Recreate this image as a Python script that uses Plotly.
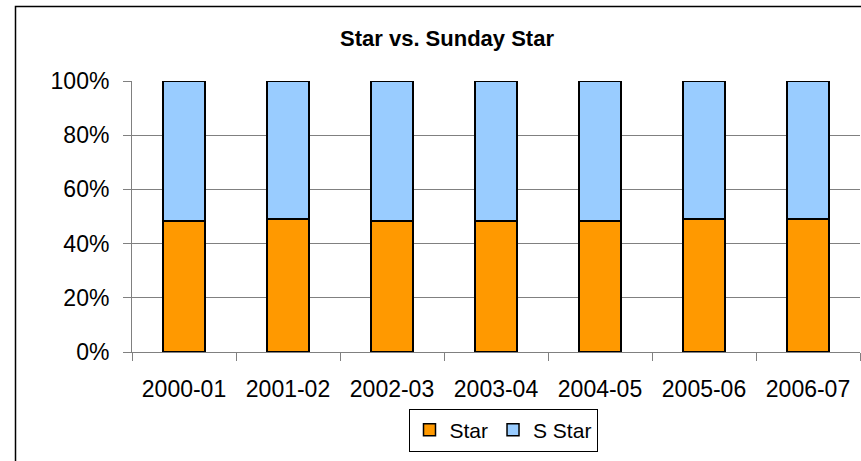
import plotly.graph_objects as go

categories = ["2000-01", "2001-02", "2002-03", "2003-04", "2004-05", "2005-06", "2006-07"]
star = [48.4, 49.0, 48.4, 48.4, 48.4, 49.0, 49.0]
s_star = [51.6, 51.0, 51.6, 51.6, 51.6, 51.0, 51.0]
y_ticks = [0, 20, 40, 60, 80, 100]
y_tick_labels = ["0%", "20%", "40%", "60%", "80%", "100%"]

FONT = "Liberation Sans, Arial, sans-serif"

fig = go.Figure()
fig.add_trace(go.Bar(x=categories, y=star, name="Star",
                     marker=dict(color="#FF9900", line=dict(color="#000000", width=1.5))))
fig.add_trace(go.Bar(x=categories, y=s_star, name="S Star",
                     marker=dict(color="#99CCFF", line=dict(color="#000000", width=1.5))))

L, R, T, B = 132, 1, 81, 109
W, H = 861, 461
pw, ph = W - L - R, H - T - B

fig.update_layout(
    width=W, height=H,
    barmode="stack", bargap=0.595,
    margin=dict(l=L, r=R, t=T, b=B, pad=0, autoexpand=False),
    paper_bgcolor="white", plot_bgcolor="white",
    font=dict(family=FONT, color="#000000"),
    title=dict(text="<b>Star vs. Sunday Star</b>", x=447 / W, xanchor="center",
               y=1 - 38 / H, yanchor="middle", yref="container",
               font=dict(size=22, family=FONT, color="#000000")),
    showlegend=True,
    legend=dict(orientation="h", x=503 / W, xanchor="center", xref="container",
                y=1 - 430 / H, yanchor="middle", yref="container", traceorder="normal",
                bordercolor="#000000", borderwidth=1, bgcolor="white",
                font=dict(size=21, family=FONT, color="#000000")),
    xaxis=dict(type="category", showline=True, linecolor="#808080", linewidth=1,
               ticks="outside", ticklen=8, tickcolor="#808080", tickson="boundaries",
               showgrid=False, tickfont=dict(size=23, family=FONT, color="#000000"),
               ticklabelstandoff=16, automargin=False, fixedrange=True),
    yaxis=dict(range=[0, 100], tickvals=y_ticks, ticktext=y_tick_labels,
               showline=True, linecolor="#808080", linewidth=1,
               ticks="outside", ticklen=8, tickcolor="#808080",
               showgrid=True, gridcolor="#808080", gridwidth=1, zeroline=False,
               tickfont=dict(size=23, family=FONT, color="#000000"),
               ticklabelstandoff=9, automargin=False, fixedrange=True),
)

# outer chart border (partially visible, left and top edges)
x_left = (15.5 - L) / pw
y_top = 1 + (T - 6.5) / ph
fig.add_shape(type="rect", xref="paper", yref="paper", x0=x_left, x1=1.2,
              y0=-0.6, y1=y_top, line=dict(color="#000000", width=1.5),
              fillcolor="rgba(0,0,0,0)", layer="below")

fig.write_html("out.html", config={"displayModeBar": False},
               post_script="document.body.style.margin='0';document.body.style.overflow='hidden';")
